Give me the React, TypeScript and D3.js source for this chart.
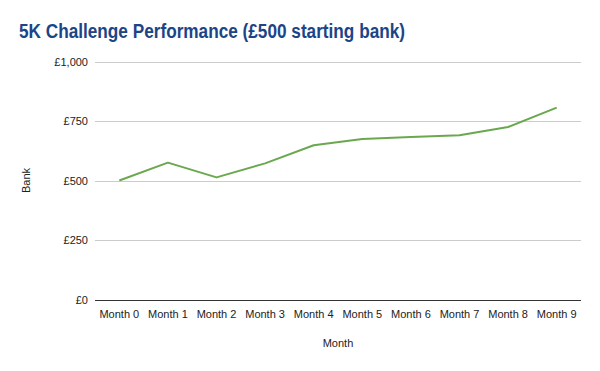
import React, { useEffect, useRef } from 'react'
import * as d3 from 'd3'

const months = ['Month 0', 'Month 1', 'Month 2', 'Month 3', 'Month 4', 'Month 5', 'Month 6', 'Month 7', 'Month 8', 'Month 9']
const bank = [500, 575, 513, 572, 648, 674, 683, 690, 725, 806]
const yTicks = [0, 250, 500, 750, 1000]

const W = 600
const H = 371
const margin = { top: 61.5, right: 19, bottom: 71.5, left: 95 }

export default function App() {
  const ref = useRef<SVGSVGElement>(null)

  useEffect(() => {
    const svg = d3.select(ref.current)
    svg.selectAll('*').remove()

    const x = d3
      .scaleBand()
      .domain(months)
      .range([margin.left, W - margin.right])
    const y = d3
      .scaleLinear()
      .domain([0, 1000])
      .range([H - margin.bottom, margin.top])

    const fmt = (v: number) => '£' + d3.format(',')(v)

    svg
      .append('rect')
      .attr('width', W)
      .attr('height', H)
      .attr('fill', '#fff')

    svg
      .append('text')
      .attr('x', 19)
      .attr('y', 37.5)
      .attr('fill', '#1c4587')
      .attr('font-family', 'Liberation Sans, Arial, sans-serif')
      .attr('font-weight', 'bold')
      .attr('font-size', 20)
      .attr('textLength', 386)
      .attr('lengthAdjust', 'spacingAndGlyphs')
      .text('5K Challenge Performance (£500 starting bank)')

    // gridlines
    svg
      .append('g')
      .selectAll('line')
      .data(yTicks.filter(d => d !== 0))
      .enter()
      .append('line')
      .attr('x1', margin.left)
      .attr('x2', W - margin.right)
      .attr('y1', d => Math.round(y(d)) + 0.5)
      .attr('y2', d => Math.round(y(d)) + 0.5)
      .attr('stroke', '#cccccc')
      .attr('stroke-width', 1)

    // y tick labels
    svg
      .append('g')
      .selectAll('text')
      .data(yTicks)
      .enter()
      .append('text')
      .attr('x', 88)
      .attr('y', d => y(d) + 4)
      .attr('text-anchor', 'end')
      .attr('fill', '#222')
      .attr('font-family', 'Liberation Sans, Arial, sans-serif')
      .attr('font-size', 11)
      .text(fmt)

    // baseline
    svg
      .append('line')
      .attr('x1', margin.left)
      .attr('x2', W - margin.right)
      .attr('y1', Math.round(y(0)) + 0.5)
      .attr('y2', Math.round(y(0)) + 0.5)
      .attr('stroke', '#333')
      .attr('stroke-width', 1)

    // x tick labels
    svg
      .append('g')
      .selectAll('text')
      .data(months)
      .enter()
      .append('text')
      .attr('x', d => (x(d) as number) + x.bandwidth() / 2)
      .attr('y', y(0) + 18)
      .attr('text-anchor', 'middle')
      .attr('fill', '#222')
      .attr('font-family', 'Liberation Sans, Arial, sans-serif')
      .attr('font-size', 11)
      .text(d => d)

    const line = d3
      .line<number>()
      .x((d, i) => (x(months[i]) as number) + x.bandwidth() / 2)
      .y(d => y(d))

    svg
      .append('path')
      .datum(bank)
      .attr('d', line)
      .attr('fill', 'none')
      .attr('stroke', '#6aa84f')
      .attr('stroke-width', 2)
      .attr('stroke-linejoin', 'round')

    // axis titles
    svg
      .append('text')
      .attr('x', (margin.left + W - margin.right) / 2)
      .attr('y', 347)
      .attr('text-anchor', 'middle')
      .attr('fill', '#222')
      .attr('font-family', 'Liberation Sans, Arial, sans-serif')
      .attr('font-size', 11)
      .text('Month')

    svg
      .append('text')
      .attr('transform', 'translate(30,' + y(500) + ') rotate(-90)')
      .attr('text-anchor', 'middle')
      .attr('fill', '#222')
      .attr('font-family', 'Liberation Sans, Arial, sans-serif')
      .attr('font-size', 11)
      .text('Bank')
  }, [])

  return (
    <svg
      ref={ref}
      width={W}
      height={H}
      style={{ position: 'absolute', left: 0, top: 0, display: 'block' }}
    />
  )
}
